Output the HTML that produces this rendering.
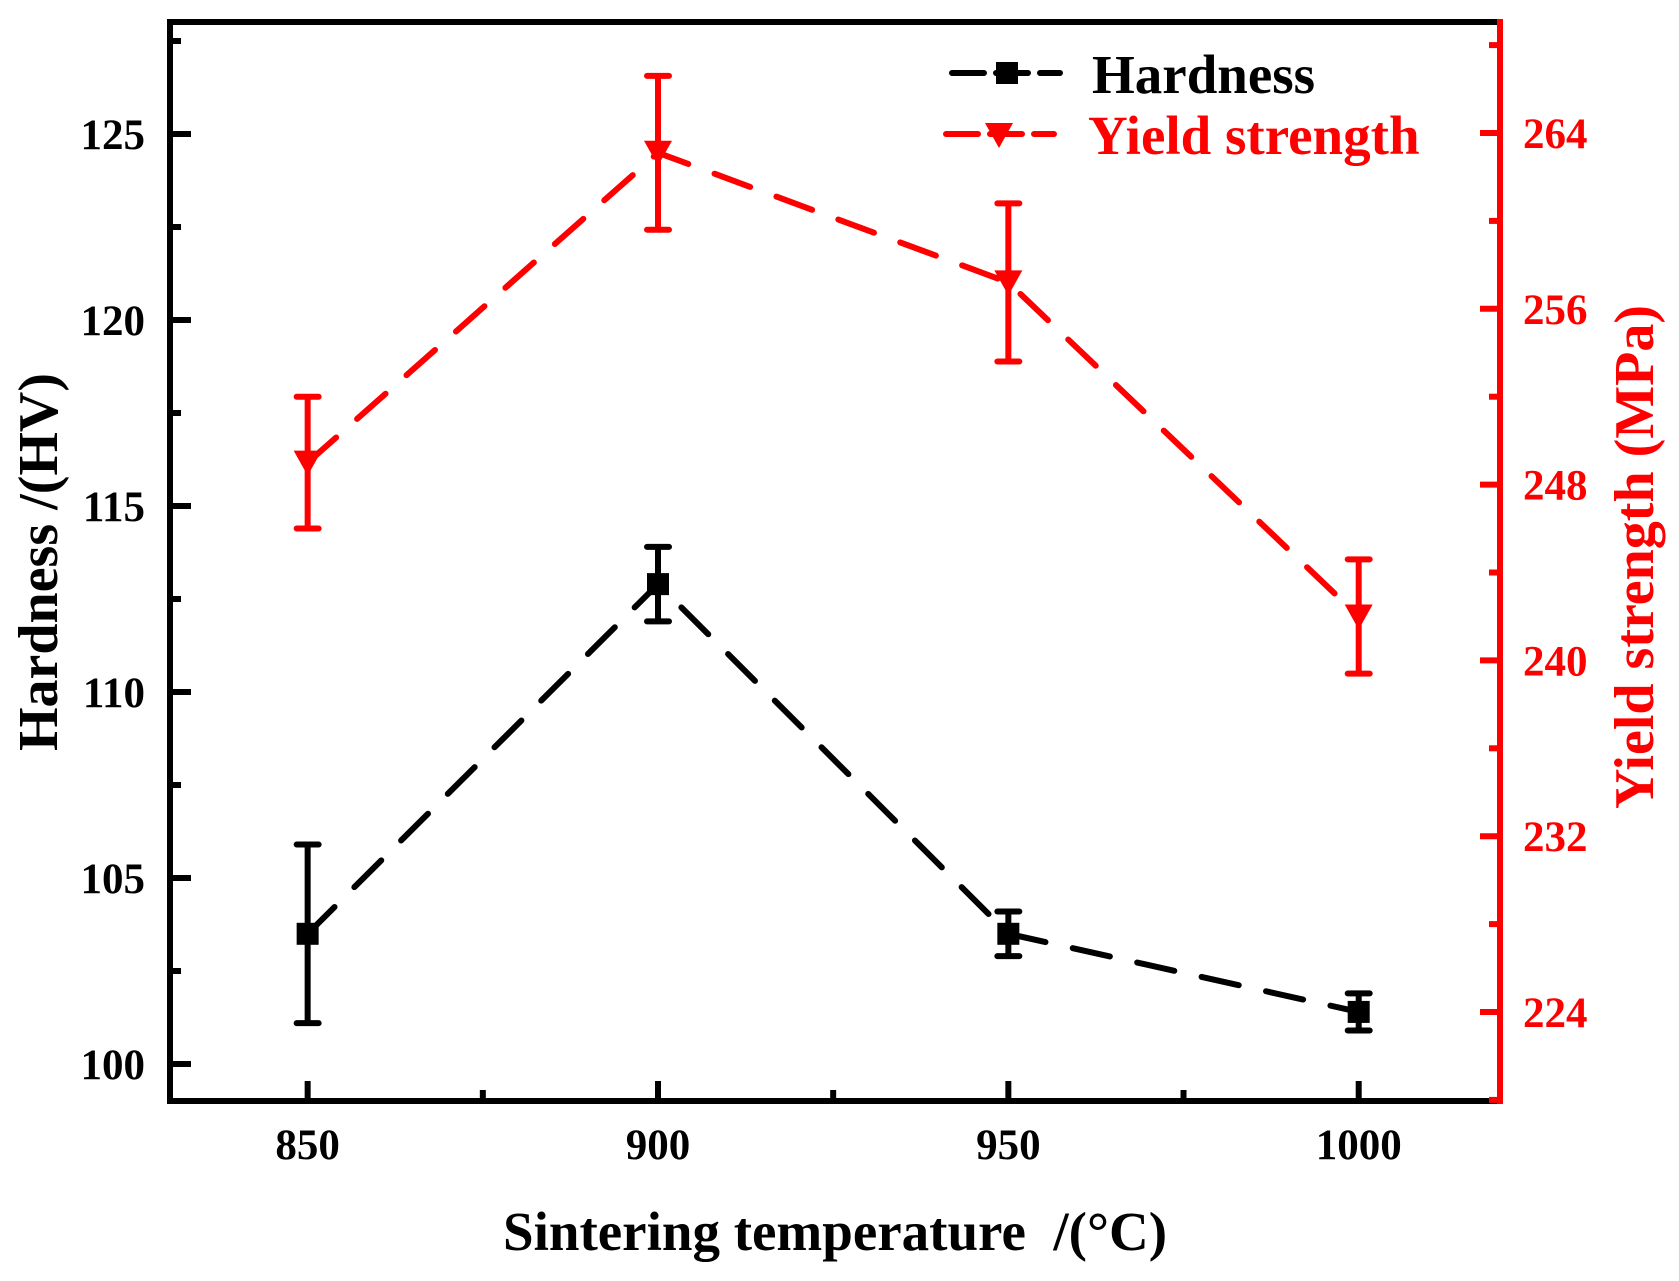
<!DOCTYPE html>
<html><head><meta charset="utf-8"><style>
html,body{margin:0;padding:0;background:#fff}
svg text{font-family:"Liberation Serif",serif;font-weight:bold}
</style></head><body>
<svg id="chart" width="1679" height="1276" viewBox="0 0 1679 1276">
<g id="plot"></g>
</svg>
<script>
const temps=[850,900,950,1000];
const hardness=[103.5,112.9,103.5,101.4];
const hardnessErr=[2.4,1.0,0.6,0.5];
const yieldStr=[249.0,263.1,257.2,242.0];
const yieldErr=[3.0,3.5,3.6,2.6];
const xTicks=[850,900,950,1000];
const xMinor=[875,925,975];
const yLeftTicks=[100,105,110,115,120,125];
const yRightTicks=[224,232,240,248,256,264];

const L=170,R=1500,T=22,B=1101;
const xs=v=>658+(v-900)*7.007;
const yl=v=>1064-(v-100)*37.2;
const yr=v=>1012-(v-224)*21.975;
const NS='http://www.w3.org/2000/svg';
const g=document.getElementById('plot');
function el(t,a,p){const e=document.createElementNS(NS,t);for(const k in a)e.setAttribute(k,a[k]);(p||g).appendChild(e);return e;}

let ax;
ax=el('line',{x1:L,y1:T,x2:R,y2:T,stroke:'#000','stroke-width':6});

ax=el('line',{x1:L,y1:T-3,x2:L,y2:B+3,stroke:'#000','stroke-width':6});

ax=el('line',{x1:L-3,y1:B,x2:R,y2:B,stroke:'#000','stroke-width':6});

ax=el('line',{x1:R,y1:T-3,x2:R,y2:B+3,stroke:'#f00','stroke-width':6});


xTicks.forEach(v=>{
  const t=el('line',{x1:xs(v),y1:B,x2:xs(v),y2:B-20,stroke:'#000','stroke-width':6});
  
  const l=el('text',{x:xs(v),y:B+58,'font-size':43,'text-anchor':'middle',fill:'#000'});
  l.textContent=v;
  
});
xMinor.forEach(v=>{
  const t=el('line',{x1:xs(v),y1:B,x2:xs(v),y2:B-11,stroke:'#000','stroke-width':6});
  
});
yLeftTicks.forEach(v=>{
  const t=el('line',{x1:L,y1:yl(v),x2:L+21,y2:yl(v),stroke:'#000','stroke-width':6});
  
  const l=el('text',{x:L-25,y:yl(v)+15,'font-size':43,'text-anchor':'end',fill:'#000'});
  l.textContent=v;
  
  const m=el('line',{x1:L,y1:yl(v+2.5),x2:L+11,y2:yl(v+2.5),stroke:'#000','stroke-width':6});
  
});
yRightTicks.forEach(v=>{
  const t=el('line',{x1:R,y1:yr(v),x2:R-20,y2:yr(v),stroke:'#f00','stroke-width':6});
  
  const l=el('text',{x:R+23,y:yr(v)+15,'font-size':43,'text-anchor':'start',fill:'#f00'});
  l.textContent=v;
  
  const m=el('line',{x1:R,y1:yr(v+4),x2:R-11,y2:yr(v+4),stroke:'#f00','stroke-width':6});
  
});
{const m=el('line',{x1:R,y1:yr(220),x2:R-11,y2:yr(220),stroke:'#f00','stroke-width':6});
}

function series(vals,errs,yf,color,name,marker){
  const pts=temps.map((t,i)=>xs(t)+','+yf(vals[i])).join(' ');
  const pl=el('polyline',{points:pts,fill:'none',stroke:color,'stroke-width':6,'stroke-dasharray':'38,28','stroke-linecap':'round'});
  
  temps.forEach((t,i)=>{
    const x=xs(t),y1=yf(vals[i]+errs[i]),y2=yf(vals[i]-errs[i]);
    const eb=el('path',{d:`M${x},${y1}V${y2}M${x-11},${y1}H${x+11}M${x-11},${y2}H${x+11}`,stroke:color,'stroke-width':6,'stroke-linecap':'round',fill:'none'});
    
    const y=yf(vals[i]);
    let m;
    if(marker==='square') m=el('rect',{x:x-11,y:y-11,width:22,height:22,fill:color});
    else m=el('polygon',{points:`${x-14},${y-12} ${x+14},${y-12} ${x},${y+13}`,fill:color});
    
  });
}
series(yieldStr,yieldErr,yr,'#f00','yield-strength','tri');
series(hardness,hardnessErr,yl,'#000','hardness','square');

let lg=el('g',{});

let e=el('line',{x1:952,y1:73,x2:1060,y2:73,stroke:'#000','stroke-width':6,'stroke-dasharray':'32,12','stroke-linecap':'round'},lg);

e=el('rect',{x:996,y:62,width:22,height:22,fill:'#000'},lg);

e=el('text',{x:1092,y:93,'font-size':55,fill:'#000'},lg);e.textContent='Hardness';

e=el('line',{x1:946,y1:134,x2:1054,y2:134,stroke:'#f00','stroke-width':6,'stroke-dasharray':'32,12','stroke-linecap':'round'},lg);

e=el('polygon',{points:'985,123 1013,123 999,148',fill:'#f00'},lg);

e=el('text',{x:1088,y:154,'font-size':55,fill:'#f00'},lg);e.textContent='Yield strength';


e=el('text',{x:835,y:1250,'font-size':55,'text-anchor':'middle',fill:'#000'});
e.textContent='Sintering temperature\u00A0\u00A0/(°C)';

e=el('text',{x:0,y:0,'font-size':56,'text-anchor':'middle',fill:'#000',transform:'translate(57,562) rotate(-90)'});
e.textContent='Hardness /(HV)';

e=el('text',{x:0,y:0,'font-size':56,'text-anchor':'middle',fill:'#f00',transform:'translate(1653,557) rotate(-90)'});
e.textContent='Yield strength (MPa)';

</script>
</body></html>
